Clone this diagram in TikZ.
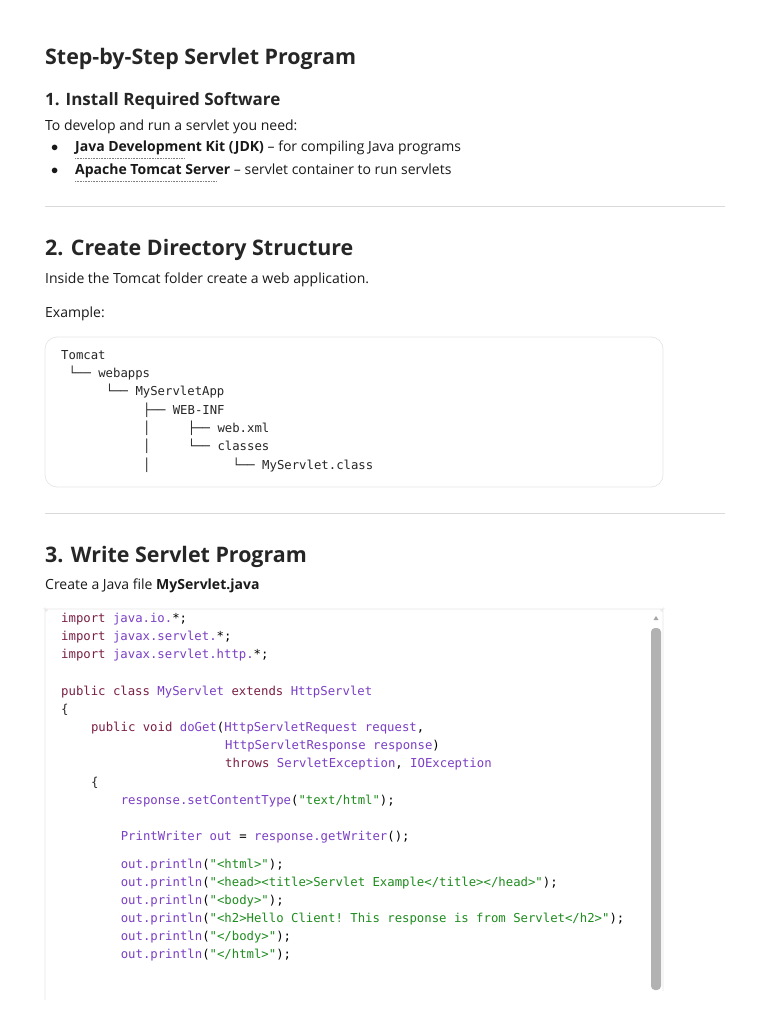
\documentclass[tikz,border=0pt]{standalone}
\usepackage{fontspec}
\setmainfont{Open Sans}
\setmonofont{DejaVu Sans Mono}
\begin{document}
\definecolor{kw}{HTML}{7A1F45}
\definecolor{ty}{HTML}{7B3FC4}
\definecolor{st}{HTML}{1E8C1E}
\definecolor{rule}{HTML}{D9D9D9}
\definecolor{bx}{HTML}{E8E8E8}
\begin{tikzpicture}[x=1pt,y=-1pt,
  t/.style={anchor=base west,inner sep=0pt,font=\fontsize{14}{16}\selectfont,text=black!90},
  h1/.style={anchor=base west,inner sep=0pt,font=\fontsize{21.4}{24}\selectfont\bfseries,text=black!85},
  h3/.style={anchor=base west,inner sep=0pt,font=\fontsize{17}{20}\selectfont\bfseries,text=black!85},
  c/.style={anchor=base west,inner sep=0pt,font=\fontsize{12.3}{14}\ttfamily,text=black!85},
  box/.style={draw=bx,line width=0.8pt,rounded corners=12pt,fill=white},
  sep/.style={draw=rule,line width=0.8pt}]
\useasboundingbox (0,0) rectangle (768,1024);
\fill[white] (0,0) rectangle (768,1024);
\node[h1] (title) at (45,65) {Step-by-Step Servlet Program};
\node[h3] (s1) at (45,106) {1. Install Required Software};
\node[t] (p1) at (45,131) {To develop and run a servlet you need:};
\node[t] (b1d) at (51,152) {$\bullet$};
\node[t] (b1) at (75,152) {\bfseries Java Development Kit (JDK) \mdseries – for compiling Java programs};
\node[t] (b2d) at (51,175) {$\bullet$};
\node[t] (b2) at (75,175) {\bfseries Apache Tomcat Server \mdseries – servlet container to run servlets};
\draw[densely dotted,gray,line width=0.6pt] (75,158) -- (185,158);
\draw[densely dotted,gray,line width=0.6pt] (75,181) -- (216,181);
\draw[sep] (45,206) -- (725,206);
\node[h1] (s2) at (45,255) {2. Create Directory Structure};
\node[t] (p2) at (45,283) {Inside the Tomcat folder create a web application.};
\node[t] (p3) at (45,317) {Example:};
\draw[box] (45,337) rectangle (663,487);
\node[c] (r0) at (61,359) {Tomcat};
\node[c] (r1) at (68.5,377) {└── webapps};
\node[c] (r2) at (105.7,395) {└── MyServletApp};
\node[c] (r3) at (143,414) {├── WEB-INF};
\node[c] (r4a) at (143,432) {│};
\node[c] (r4) at (187.7,432) {├── web.xml};
\node[c] (r5a) at (143,450) {│};
\node[c] (r5) at (187.7,450) {└── classes};
\node[c] (r6a) at (143,469) {│};
\node[c] (r6) at (232.4,469) {└── MyServlet.class};
\draw[sep] (45,513) -- (725,513);
\node[h1] (s3) at (45,562) {3. Write Servlet Program};
\node[t] (p4) at (45,589) {Create a Java file \textbf{MyServlet.java}};
\draw[box] (45,1000) -- (45,621) arc (180:270:12) -- (651,609) arc (270:360:12) -- (663,1000);
\fill[white] (46,991) rectangle (768,1024);
\fill[black!30,rounded corners=4pt] (651,628) rectangle (661,990);
\fill[black!35] (653.5,620) -- (658.5,620) -- (656,616) -- cycle;
\node[c] (l1) at (61,622) {\color{kw}import \color{ty}java.io.\color{black}*;};
\node[c] (l2) at (61,640) {\color{kw}import \color{ty}javax.servlet.\color{black}*;};
\node[c] (l3) at (61,658) {\color{kw}import \color{ty}javax.servlet.http.\color{black}*;};
\node[c] (l5) at (61,695) {\color{kw}public class \color{ty}MyServlet \color{kw}extends \color{ty}HttpServlet};
\node[c] (l6) at (61,713) {\{};
\node[c] (l7) at (90.8,731) {\color{kw}public void \color{ty}doGet\color{black}(\color{ty}HttpServletRequest request\color{black},};
\node[c] (l8) at (224.9,749) {\color{ty}HttpServletResponse response\color{black})};
\node[c] (l9) at (224.9,767) {\color{kw}throws \color{ty}ServletException\color{black}, \color{ty}IOException};
\node[c] (l10) at (90.8,786) {\{};
\node[c] (l11) at (120.6,804) {\color{ty}response.setContentType\color{black}(\color{st}"text/html"\color{black});};
\node[c] (l13) at (120.6,840) {\color{ty}PrintWriter out \color{black}= \color{ty}response.getWriter\color{black}();};
\node[c] (l15) at (120.6,868) {\color{ty}out.println\color{black}(\color{st}"<html>"\color{black});};
\node[c] (l16) at (120.6,886) {\color{ty}out.println\color{black}(\color{st}"<head><title>Servlet Example</title></head>"\color{black});};
\node[c] (l17) at (120.6,904) {\color{ty}out.println\color{black}(\color{st}"<body>"\color{black});};
\node[c] (l18) at (120.6,922) {\color{ty}out.println\color{black}(\color{st}"<h2>Hello Client! This response is from Servlet</h2>"\color{black});};
\node[c] (l19) at (120.6,940) {\color{ty}out.println\color{black}(\color{st}"</body>"\color{black});};
\node[c] (l20) at (120.6,958) {\color{ty}out.println\color{black}(\color{st}"</html>"\color{black});};
\end{tikzpicture}
\end{document}
